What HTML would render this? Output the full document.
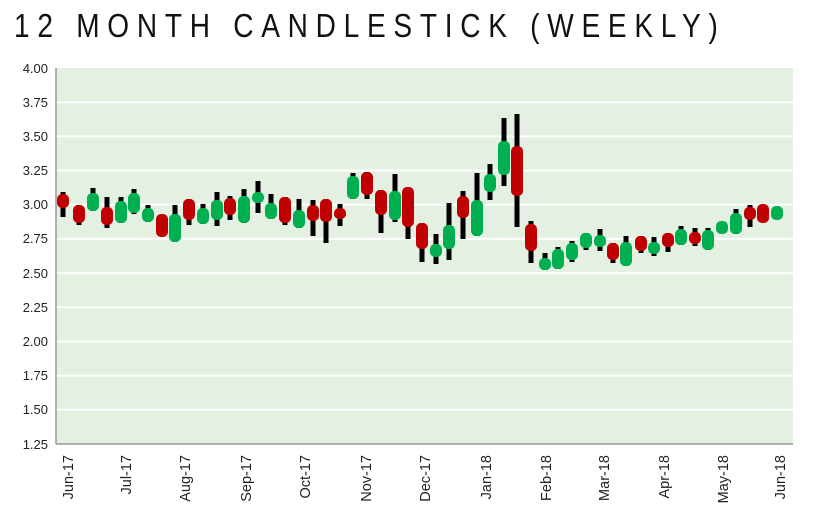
<!DOCTYPE html>
<html><head><meta charset="utf-8"><style>body{margin:0;background:#fff}svg{display:block}</style></head><body>
<svg width="813" height="530" xmlns="http://www.w3.org/2000/svg" font-family="Liberation Sans, sans-serif">
<text transform="scale(0.85 1)" x="16.5" y="37" font-size="33" textLength="828" lengthAdjust="spacing" fill="#111">12 MONTH CANDLESTICK (WEEKLY)</text>
<rect x="56" y="68" width="737" height="376" fill="#e4f0e2"/>
<g stroke="#fff" stroke-width="2">
<line x1="56" x2="793" y1="102.2" y2="102.2"/><line x1="56" x2="793" y1="136.4" y2="136.4"/><line x1="56" x2="793" y1="170.5" y2="170.5"/><line x1="56" x2="793" y1="204.7" y2="204.7"/><line x1="56" x2="793" y1="238.9" y2="238.9"/><line x1="56" x2="793" y1="273.1" y2="273.1"/><line x1="56" x2="793" y1="307.3" y2="307.3"/><line x1="56" x2="793" y1="341.5" y2="341.5"/><line x1="56" x2="793" y1="375.6" y2="375.6"/><line x1="56" x2="793" y1="409.8" y2="409.8"/>
</g>
<g font-size="13" text-anchor="end" fill="#222">
<text x="48" y="73">4.00</text><text x="48" y="107">3.75</text><text x="48" y="141">3.50</text><text x="48" y="175">3.25</text><text x="48" y="209">3.00</text><text x="48" y="243">2.75</text><text x="48" y="278">2.50</text><text x="48" y="312">2.25</text><text x="48" y="346">2.00</text><text x="48" y="380">1.75</text><text x="48" y="414">1.50</text><text x="48" y="449">1.25</text>
</g>
<g fill="#000">
<rect x="60.5" y="192" width="5" height="25"/><rect x="76.5" y="205" width="5" height="20"/><rect x="90.5" y="188" width="5" height="23"/><rect x="104.5" y="197" width="5" height="31"/><rect x="118.5" y="197" width="5" height="26"/><rect x="131.5" y="189" width="5" height="25"/><rect x="145.5" y="205" width="5" height="17"/><rect x="172.5" y="205" width="5" height="37"/><rect x="186.5" y="199" width="5" height="26"/><rect x="200.5" y="204" width="5" height="20"/><rect x="214.5" y="192" width="5" height="34"/><rect x="227.5" y="196" width="5" height="24"/><rect x="241.5" y="189" width="5" height="34"/><rect x="255.5" y="181" width="5" height="32"/><rect x="268.5" y="194" width="5" height="25"/><rect x="282.5" y="197" width="5" height="28"/><rect x="296.5" y="199" width="5" height="29"/><rect x="310.5" y="200" width="5" height="36"/><rect x="323.5" y="199" width="5" height="44"/><rect x="337.5" y="204" width="5" height="22"/><rect x="350.5" y="173" width="5" height="26"/><rect x="364.5" y="172" width="5" height="27"/><rect x="378.5" y="190" width="5" height="43"/><rect x="392.5" y="174" width="5" height="48"/><rect x="405.5" y="187" width="5" height="52"/><rect x="419.5" y="223" width="5" height="39"/><rect x="433.5" y="234" width="5" height="30"/><rect x="446.5" y="203" width="5" height="57"/><rect x="460.5" y="191" width="5" height="48"/><rect x="474.5" y="173" width="5" height="63"/><rect x="487.5" y="164" width="5" height="36"/><rect x="501.5" y="118" width="5" height="68"/><rect x="514.5" y="114" width="5" height="113"/><rect x="528.5" y="221" width="5" height="42"/><rect x="542.5" y="253" width="5" height="17"/><rect x="555.5" y="247" width="5" height="22"/><rect x="569.5" y="241" width="5" height="21"/><rect x="583.5" y="233" width="5" height="17"/><rect x="597.5" y="229" width="5" height="22"/><rect x="610.5" y="243" width="5" height="20"/><rect x="623.5" y="236" width="5" height="30"/><rect x="638.5" y="236" width="5" height="17"/><rect x="651.5" y="237" width="5" height="19"/><rect x="665.5" y="233" width="5" height="19"/><rect x="678.5" y="226" width="5" height="19"/><rect x="692.5" y="228" width="5" height="18"/><rect x="705.5" y="228" width="5" height="22"/><rect x="733.5" y="209" width="5" height="25"/><rect x="747.5" y="205" width="5" height="22"/>
</g>
<g fill="#c00000">
<rect x="57" y="194" width="12" height="14" rx="5"/><rect x="73" y="205" width="12" height="18" rx="5"/><rect x="101" y="207" width="12" height="18" rx="5"/><rect x="156" y="214" width="12" height="23" rx="5"/><rect x="183" y="199" width="12" height="21" rx="5"/><rect x="224" y="198" width="12" height="17" rx="5"/><rect x="279" y="197" width="12" height="26" rx="5"/><rect x="307" y="205" width="12" height="16" rx="5"/><rect x="320" y="199" width="12" height="23" rx="5"/><rect x="334" y="208" width="12" height="11" rx="5"/><rect x="361" y="172" width="12" height="23" rx="5"/><rect x="375" y="190" width="12" height="25" rx="5"/><rect x="402" y="187" width="12" height="40" rx="5"/><rect x="416" y="223" width="12" height="26" rx="5"/><rect x="457" y="196" width="12" height="22" rx="5"/><rect x="511" y="146" width="12" height="50" rx="5"/><rect x="525" y="224" width="12" height="27" rx="5"/><rect x="607" y="243" width="12" height="17" rx="5"/><rect x="635" y="236" width="12" height="15" rx="5"/><rect x="662" y="233" width="12" height="14" rx="5"/><rect x="689" y="232" width="12" height="12" rx="5"/><rect x="744" y="207" width="12" height="13" rx="5"/><rect x="757" y="204" width="12" height="19" rx="5"/>
</g>
<g fill="#00b050">
<rect x="87" y="193" width="12" height="18" rx="5"/><rect x="115" y="201" width="12" height="22" rx="5"/><rect x="128" y="193" width="12" height="20" rx="5"/><rect x="142" y="208" width="12" height="14" rx="5"/><rect x="169" y="214" width="12" height="28" rx="5"/><rect x="197" y="208" width="12" height="16" rx="5"/><rect x="211" y="200" width="12" height="20" rx="5"/><rect x="238" y="196" width="12" height="27" rx="5"/><rect x="252" y="192" width="12" height="11" rx="5"/><rect x="265" y="203" width="12" height="16" rx="5"/><rect x="293" y="210" width="12" height="18" rx="5"/><rect x="347" y="176" width="12" height="23" rx="5"/><rect x="389" y="191" width="12" height="29" rx="5"/><rect x="430" y="244" width="12" height="13" rx="5"/><rect x="443" y="225" width="12" height="24" rx="5"/><rect x="471" y="200" width="12" height="36" rx="5"/><rect x="484" y="174" width="12" height="18" rx="5"/><rect x="498" y="141" width="12" height="34" rx="5"/><rect x="539" y="258" width="12" height="12" rx="5"/><rect x="552" y="249" width="12" height="20" rx="5"/><rect x="566" y="243" width="12" height="17" rx="5"/><rect x="580" y="233" width="12" height="15" rx="5"/><rect x="594" y="235" width="12" height="12" rx="5"/><rect x="620" y="242" width="12" height="24" rx="5"/><rect x="648" y="242" width="12" height="12" rx="5"/><rect x="675" y="229" width="12" height="16" rx="5"/><rect x="702" y="230" width="12" height="20" rx="5"/><rect x="716" y="221" width="12" height="13" rx="5"/><rect x="730" y="213" width="12" height="21" rx="5"/><rect x="771" y="206" width="12" height="14" rx="5"/>
</g>
<line x1="56" y1="68" x2="56" y2="444" stroke="#999" stroke-width="1.5"/>
<line x1="56" y1="444" x2="793" y2="444" stroke="#999" stroke-width="1.5"/>
<g font-size="14.5" text-anchor="end" fill="#222">
<text transform="translate(73,455) rotate(-90)">Jun-17</text>
<text transform="translate(131,455) rotate(-90)">Jul-17</text>
<text transform="translate(190,455) rotate(-90)">Aug-17</text>
<text transform="translate(251,455) rotate(-90)">Sep-17</text>
<text transform="translate(310,455) rotate(-90)">Oct-17</text>
<text transform="translate(371,455) rotate(-90)">Nov-17</text>
<text transform="translate(430,455) rotate(-90)">Dec-17</text>
<text transform="translate(491,455) rotate(-90)">Jan-18</text>
<text transform="translate(551,455) rotate(-90)">Feb-18</text>
<text transform="translate(609,455) rotate(-90)">Mar-18</text>
<text transform="translate(669,455) rotate(-90)">Apr-18</text>
<text transform="translate(728,455) rotate(-90)">May-18</text>
<text transform="translate(785,455) rotate(-90)">Jun-18</text>
</g>
</svg>
</body></html>
